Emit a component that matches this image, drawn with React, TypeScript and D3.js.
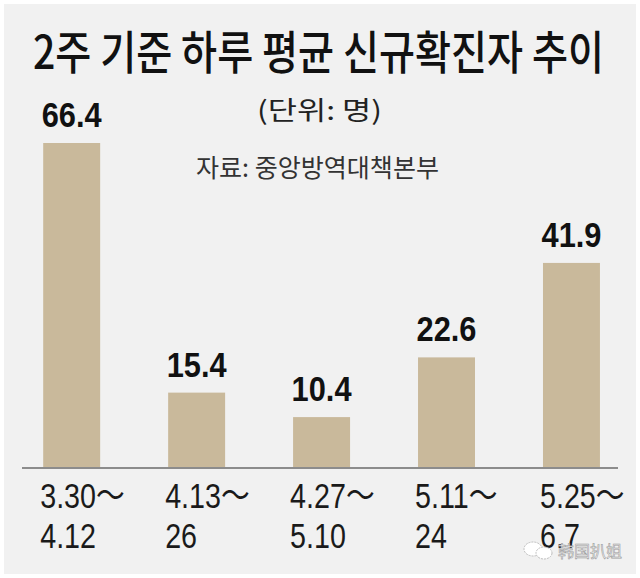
import React from "react";
import * as d3 from "d3";

const periodStart = ["3.30～", "4.13～", "4.27～", "5.11～", "5.25～"];
const periodEnd = ["4.12", "26", "5.10", "24", "6.7"];
const values = [66.4, 15.4, 10.4, 22.6, 41.9];
const valueLabels = ["66.4", "15.4", "10.4", "22.6", "41.9"];

const titleText = "2주 기준 하루 평균 신규확진자 추이";
const unitText = "(단위: 명)";
const sourceText = "자료: 중앙방역대책본부";
const watermark = "韩国扒姐";

const W = 640;
const H = 578;
const BASE = 468;

export default function App() {
  const idx = values.map((_, i) => i);
  const x = d3
    .scaleBand<number>()
    .domain(idx)
    .range([22, 618])
    .paddingInner(0.544)
    .paddingOuter(0.157)
    .align(0.54);
  const y = d3.scaleLinear().domain([0, 66.4]).range([BASE, 143]);
  const bw = x.bandwidth();
  const kr = "'Noto Sans CJK KR', 'Noto Sans', sans-serif";
  const num = "'Liberation Sans', Arial, sans-serif";
  const tsx = 0.86;

  return (
    <svg
      width={W}
      height={H}
      style={{ position: "absolute", left: 0, top: 0, display: "block" }}
    >
      <rect x={0} y={0} width={W} height={H} fill="#ffffff" />
      <rect x={4} y={4} width={W - 8} height={H - 8} fill="#f1f1f1" />
      <g transform={`translate(33,69) scale(${tsx},1)`}>
        <text
          x={0}
          y={0}
          fontFamily={kr}
          fontWeight={500}
          fontSize={46}
          fill="#111"
          textLength={571 / tsx}
          lengthAdjust="spacingAndGlyphs"
        >
          {titleText}
        </text>
      </g>
      <text
        x={257}
        y={120}
        fontFamily={kr}
        fontSize={26}
        fill="#222"
        textLength={125}
        lengthAdjust="spacingAndGlyphs"
      >
        {unitText}
      </text>
      <text
        x={196}
        y={177}
        fontFamily={kr}
        fontSize={25}
        fill="#333"
        textLength={243}
        lengthAdjust="spacingAndGlyphs"
      >
        {sourceText}
      </text>
      {idx.map((i) => (
        <rect
          key={"b" + i}
          x={x(i)}
          y={y(values[i])}
          width={bw}
          height={BASE - y(values[i])}
          fill="#c9b99b"
        />
      ))}
      {idx.map((i) => (
        <g
          key={"v" + i}
          transform={`translate(${(x(i) as number) + bw / 2},${y(values[i]) - 16}) scale(0.88,1)`}
        >
          <text
            x={0}
            y={0}
            textAnchor="middle"
            fontFamily={num}
            fontWeight="bold"
            fontSize={35}
            fill="#111"
          >
            {valueLabels[i]}
          </text>
        </g>
      ))}
      <line x1={22} x2={618} y1={BASE} y2={BASE} stroke="#8c8c8c" strokeWidth={2} />
      {idx.map((i) => (
        <g
          key={"l" + i}
          transform={`translate(${(x(i) as number) - 3},0) scale(0.82,1)`}
        >
          <text x={0} y={508} fontFamily={num} fontSize={35} fill="#1a1a1a">
            <tspan>{periodStart[i].slice(0, -1)}</tspan>
            <tspan fontFamily={kr}>{periodStart[i].slice(-1)}</tspan>
          </text>
          <text x={0} y={548} fontFamily={num} fontSize={35} fill="#1a1a1a">
            {periodEnd[i]}
          </text>
        </g>
      ))}
      <g>
        <ellipse cx={533} cy={549} rx={9} ry={7} fill="#ffffff" stroke="#bdbdbd" strokeWidth={1} strokeDasharray="2 1" />
        <ellipse cx={544} cy={553} rx={8} ry={6} fill="#ffffff" stroke="#bdbdbd" strokeWidth={1} strokeDasharray="2 1" />
        <text
          x={558}
          y={557}
          fontFamily="'Noto Sans CJK SC', sans-serif"
          fontSize={16}
          fill="#ffffff"
          stroke="#9a9a9a"
          strokeWidth={0.6}
        >
          {watermark}
        </text>
      </g>
    </svg>
  );
}
